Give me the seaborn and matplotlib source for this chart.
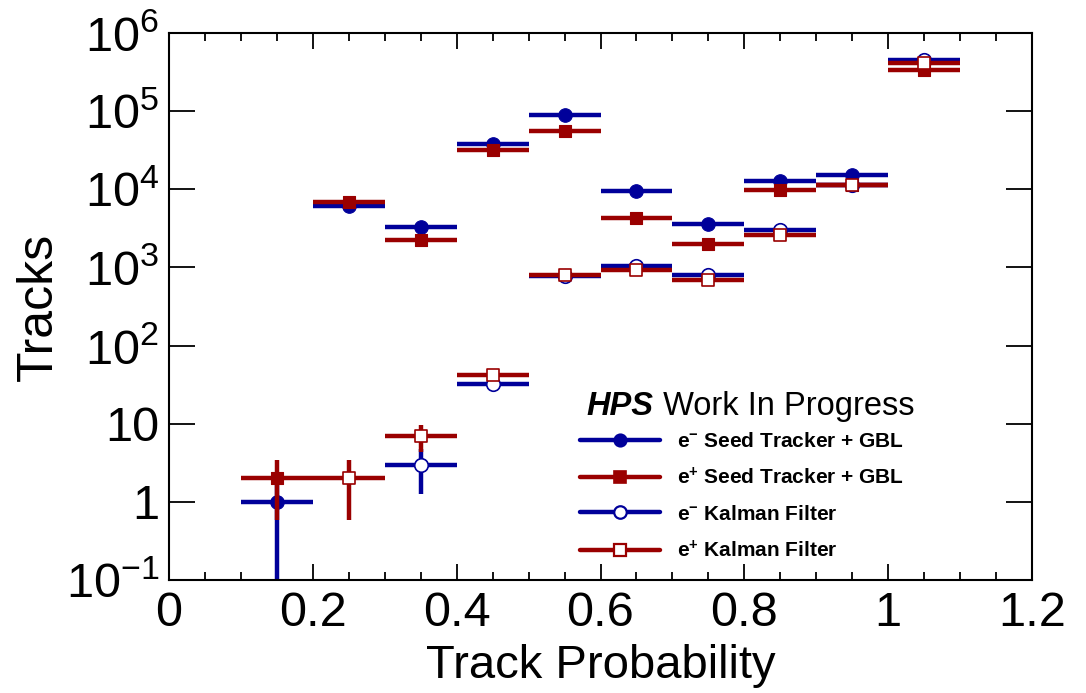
import numpy as np
import pandas as pd
import matplotlib
matplotlib.use("Agg")
import matplotlib.pyplot as plt
import seaborn as sns
from matplotlib.lines import Line2D
from matplotlib.ticker import FixedLocator, MultipleLocator, LogLocator, NullFormatter

# Track-probability histograms (bin centres, bin half width 0.05)
bin_centers = [0.15, 0.25, 0.35, 0.45, 0.55, 0.65, 0.75, 0.85, 0.95, 1.05]
bin_half_width = 0.05

e_minus_seed = [1, 6100, 3340, 38300, 88000, 9570, 3610, 12600, 15300, 425000]
e_plus_seed = [2, 6800, 2240, 32000, 56000, 4350, 1990, 9770, 11200, 340000]
e_minus_kalman = [0, 0, 3, 32, 770, 1050, 795, 2970, 11400, 455000]
e_plus_kalman = [0, 2, 7, 42, 800, 930, 695, 2610, 11400, 408000]

series_labels = [
    r"e$^{\mathbf{-}}$ Seed Tracker + GBL",
    r"e$^{\mathbf{+}}$ Seed Tracker + GBL",
    r"e$^{\mathbf{-}}$ Kalman Filter",
    r"e$^{\mathbf{+}}$ Kalman Filter",
]

x_tick_values = [0, 0.2, 0.4, 0.6, 0.8, 1.0, 1.2]
x_tick_labels = ["0", "0.2", "0.4", "0.6", "0.8", "1", "1.2"]
y_tick_values = [1e-1, 1, 10, 1e2, 1e3, 1e4, 1e5, 1e6]
y_tick_labels = [r"$10^{-1}$", "1", "10", r"$10^{2}$", r"$10^{3}$",
                 r"$10^{4}$", r"$10^{5}$", r"$10^{6}$"]

BLUE = "#00009a"
RED = "#9a0000"

sns.set_theme(style="ticks")
plt.rcParams.update({
    "font.family": ["Liberation Sans", "DejaVu Sans"],
    "mathtext.fontset": "custom",
    "mathtext.rm": "Liberation Sans",
    "mathtext.it": "Liberation Sans:italic",
    "mathtext.bf": "Liberation Sans:bold",
    "text.color": "black",
    "axes.labelcolor": "black",
    "axes.edgecolor": "black",
    "axes.linewidth": 1.5,
    "xtick.color": "black",
    "ytick.color": "black",
    "xtick.labelcolor": "black",
    "ytick.labelcolor": "black",
})

fig = plt.figure(figsize=(10.86, 6.93), dpi=100)
ax = fig.add_axes([169 / 1086, 1 - 580 / 693, 863 / 1086, 547 / 693])
ax.set_yscale("log")

styles = [
    dict(values=e_minus_seed, color=BLUE, marker="o", face=BLUE, s=95, mlw=0.8, ms=9),
    dict(values=e_plus_seed, color=RED, marker="s", face=RED, s=80, mlw=0.8, ms=8.5),
    dict(values=e_minus_kalman, color=BLUE, marker="o", face="white", s=95, mlw=1.2, ms=9),
    dict(values=e_plus_kalman, color=RED, marker="s", face="white", s=80, mlw=1.2, ms=8.5),
]

handles = []
for i, st in enumerate(styles):
    df = pd.DataFrame({"x": bin_centers, "y": st["values"]})
    df = df[df["y"] > 0]
    y = df["y"].to_numpy(dtype=float)
    err = np.sqrt(y)
    lower = np.where(y - err <= 0, y - 1e-4, err)
    z = 2 + i
    ax.errorbar(df["x"], y, xerr=bin_half_width, yerr=[lower, err], fmt="none",
                ecolor=st["color"], elinewidth=3.2, capsize=0, zorder=z)
    sns.scatterplot(data=df, x="x", y="y", ax=ax, marker=st["marker"], s=st["s"],
                    color=st["face"], edgecolor=st["color"], linewidth=st["mlw"],
                    zorder=z + 0.5, legend=False)
    handles.append(Line2D([], [], color=st["color"], lw=3.2, marker=st["marker"],
                          markersize=st["ms"], markerfacecolor=st["face"],
                          markeredgecolor=st["color"], markeredgewidth=st["mlw"] + 0.4))

ax.set_xlim(0, 1.2)
ax.set_ylim(0.1, 1e6)
ax.xaxis.set_major_locator(FixedLocator(x_tick_values))
ax.set_xticklabels(x_tick_labels)
ax.xaxis.set_minor_locator(MultipleLocator(0.05))
ax.yaxis.set_major_locator(FixedLocator(y_tick_values))
ax.set_yticklabels(y_tick_labels)
ax.yaxis.set_minor_locator(LogLocator(base=10, subs=np.arange(2, 10)))
ax.yaxis.set_minor_formatter(NullFormatter())

ax.tick_params(which="both", direction="in", top=True, right=True, width=1.3)
ax.tick_params(axis="x", which="major", length=11.8, labelsize=35, pad=8)
ax.tick_params(axis="x", which="minor", length=5.9)
ax.tick_params(axis="y", which="major", length=18.7, labelsize=35, pad=7)
ax.tick_params(axis="y", which="minor", length=9.4)

ax.set_xlabel("Track Probability", fontsize=34, labelpad=6)
ax.set_ylabel("Tracks", fontsize=36, labelpad=3)

leg = ax.legend(handles, series_labels, loc="upper left", bbox_to_anchor=(0.476, 0.27),
                frameon=False, borderpad=0, borderaxespad=0, handlelength=3.85,
                handletextpad=0.8, labelspacing=0.77,
                prop={"weight": "bold", "size": 15})

t1 = ax.text(0.484, 0.3016, "HPS", transform=ax.transAxes, fontsize=23.5,
             fontweight="bold", fontstyle="italic", va="baseline", ha="left")
ax.annotate(" Work In Progress", xy=(1, 0), xycoords=t1, va="bottom", ha="left",
            fontsize=23.5)

fig.savefig("out.png", dpi=100)
